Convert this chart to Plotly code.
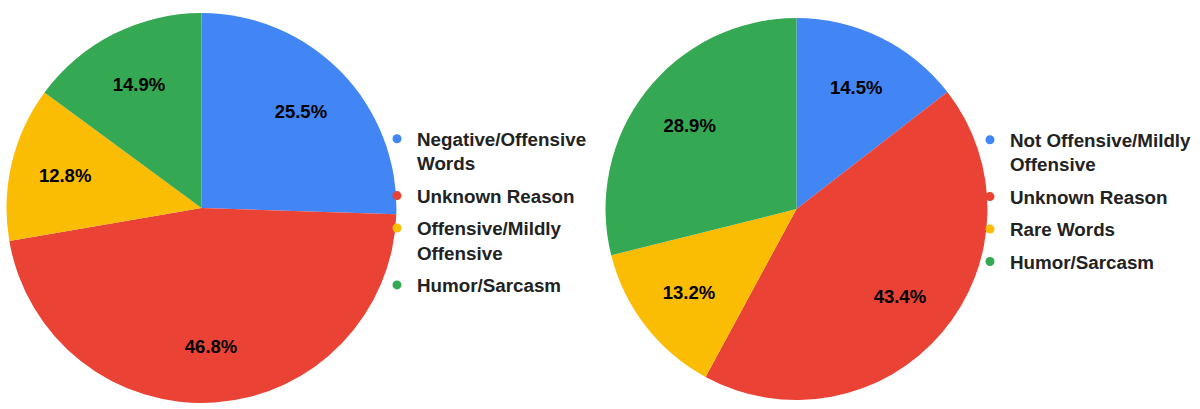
import plotly.graph_objects as go

colors = ["#4285F4", "#EA4335", "#FBBC04", "#34A853"]

left_labels = ["Negative/Offensive<br>Words", "Unknown Reason", "Offensive/Mildly<br>Offensive", "Humor/Sarcasm"]
left_values = [25.5, 46.8, 12.8, 14.9]

right_labels = ["Not Offensive/Mildly<br>Offensive", "Unknown Reason", "Rare Words", "Humor/Sarcasm"]
right_values = [14.5, 43.4, 13.2, 28.9]

FONT = "Liberation Sans"

fig = go.Figure()

def add_pie(labels, values, domain, legend_name):
    # coloured slices
    fig.add_trace(go.Pie(
        labels=labels, values=values, sort=False, direction="clockwise", rotation=0,
        marker=dict(colors=colors, line=dict(width=0)),
        textinfo="none", domain=domain, showlegend=False, hoverinfo="label+percent",
    ))
    # transparent ring carrying the percentage labels further out
    fig.add_trace(go.Pie(
        labels=labels, values=values, sort=False, direction="clockwise", rotation=0,
        hole=0.42,
        marker=dict(colors=["rgba(0,0,0,0)"] * len(values), line=dict(width=0)),
        texttemplate="%{value:.1f}%", textposition="inside",
        insidetextorientation="horizontal",
        textfont=dict(family=FONT, size=18.5, color="#000000", weight="bold"),
        domain=domain, showlegend=False, hoverinfo="skip",
    ))
    for i, (lab, col) in enumerate(zip(labels, colors)):
        fig.add_trace(go.Scatter(
            x=[None], y=[None], mode="markers", name=lab,
            marker=dict(color=col, size=9, symbol="circle"),
            legend=legend_name, legendgroup=legend_name + str(i), showlegend=True,
        ))

add_pie(left_labels, left_values, dict(x=[0.0054, 0.3304], y=[0.0147, 0.968]), "legend")
add_pie(right_labels, right_values, dict(x=[0.5046, 0.8229], y=[0.0147, 0.9633]), "legend2")

legend_common = dict(
    font=dict(family=FONT, size=18.8, color="#222222", weight="bold"),
    valign="top", tracegroupgap=5, bgcolor="rgba(0,0,0,0)", borderwidth=0,
    xanchor="left", yanchor="top", itemsizing="trace",
)

fig.update_layout(
    width=1200, height=409,
    margin=dict(l=0, r=0, t=0, b=0),
    paper_bgcolor="white", plot_bgcolor="white",
    xaxis=dict(visible=False), yaxis=dict(visible=False),
    legend=dict(x=377 / 1200, y=1 - 120 / 409, **legend_common),
    legend2=dict(x=970 / 1200, y=1 - 121 / 409, **legend_common),
    showlegend=True,
)

fig.write_html("out.html")
